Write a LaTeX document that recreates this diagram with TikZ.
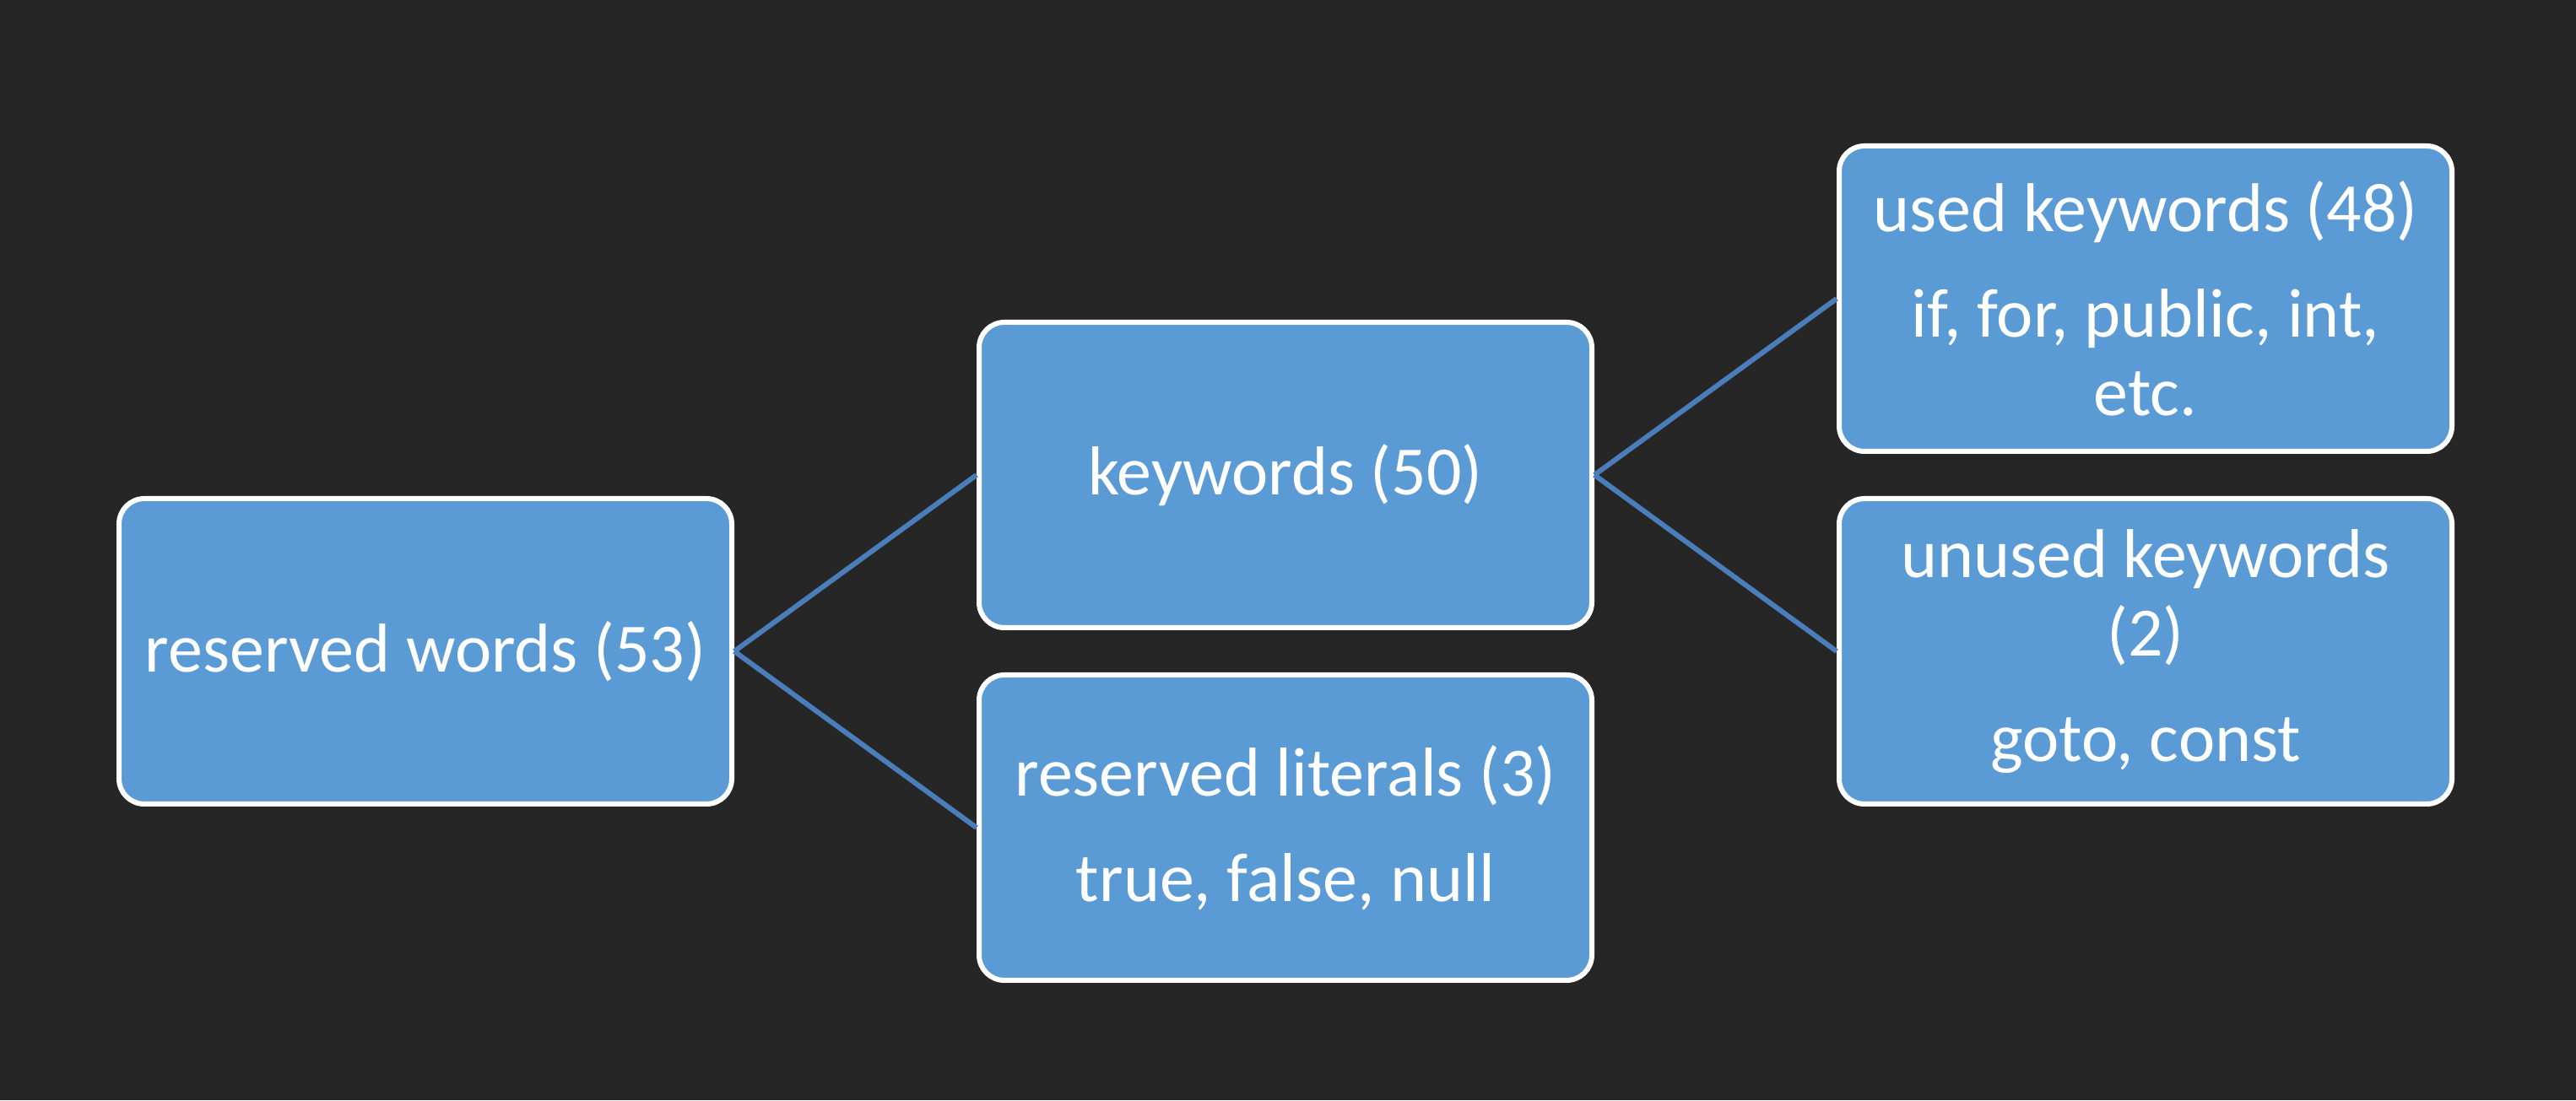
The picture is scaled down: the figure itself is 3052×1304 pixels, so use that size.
\documentclass[tikz,border=0pt]{standalone}
\usepackage{fontspec}
\setmainfont{Carlito}
\definecolor{bg}{HTML}{262626}
\definecolor{boxfill}{HTML}{5B9BD5}
\definecolor{linkcol}{HTML}{4A7EBB}
\begin{document}
\begin{tikzpicture}[x=1pt,y=1pt,
  box/.style={draw=white, line width=6pt, fill=boxfill, rounded corners=30pt,
    minimum width=726pt, minimum height=362pt, align=center, text=white,
    inner sep=0pt, font=\fontsize{82}{93}\selectfont},
  link/.style={draw=linkcol, line width=6pt}]
\fill[bg] (0,0) rectangle (3052,1304);
\useasboundingbox (0,0) rectangle (3052,1304);
\node[box] (rw) at (504,532) {reserved words (53)};
\node[box] (kw) at (1523,741) {keywords (50)};
\node[box] (rl) at (1523,323) {reserved literals (3)\\[32pt]true, false, null};
\node[box] (uk) at (2542,950) {used keywords (48)\\[32pt]if, for, public, int,\\etc.};
\node[box] (un) at (2542,532) {unused keywords\\(2)\\[32pt]goto, const};
\draw[link] (rw.east) -- (kw.west);
\draw[link] (rw.east) -- (rl.west);
\draw[link] (kw.east) -- (uk.west);
\draw[link] (kw.east) -- (un.west);
\end{tikzpicture}
\end{document}
